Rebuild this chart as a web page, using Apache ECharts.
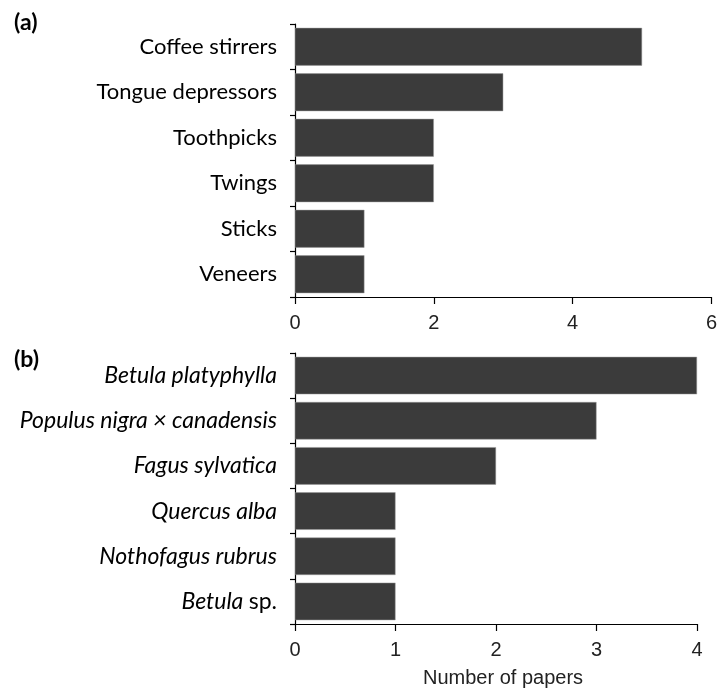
<!DOCTYPE html>
<html>
<head>
<meta charset="utf-8">
<script src="https://cdn.jsdelivr.net/npm/echarts@6/dist/echarts.min.js"></script>
<style>html,body{margin:0;padding:0;background:#fff}#c{width:720px;height:693px}</style>
</head>
<body>
<div id="c"></div>
<script>
// Panel (a): products
const catsA = ['Coffee stirrers', 'Tongue depressors', 'Toothpicks', 'Twings', 'Sticks', 'Veneers'];
const valsA = [5, 3, 2, 2, 1, 1];
const ticksA = [0, 2, 4, 6];
// Panel (b): species
const catsB = ['Betula platyphylla', 'Populus nigra × canadensis', 'Fagus sylvatica', 'Quercus alba', 'Nothofagus rubrus', 'Betula sp.'];
const valsB = [4, 3, 2, 1, 1, 1];
const ticksB = [0, 1, 2, 3, 4];
const panelLabels = ['(a)', '(b)'];
const xTitle = 'Number of papers';

const chart = echarts.init(document.getElementById('c'));
const barColor = '#3b3b3b';
const axisLineStyle = { color: '#000', width: 1.2 };
const catFont = 'Lato, "Open Sans", sans-serif';
const numFont = '"Liberation Sans", Arial, sans-serif';

function catAxis(idx, cats, italic) {
  const fs = italic ? 23 : 22;
  return {
    type: 'category', gridIndex: idx, data: cats, inverse: true,
    axisLine: { show: true, lineStyle: axisLineStyle },
    axisTick: { show: true, length: 5, lineStyle: axisLineStyle },
    axisLabel: {
      margin: 18, fontFamily: catFont, fontSize: fs, color: '#000',
      fontStyle: italic ? 'italic' : 'normal',
      formatter: italic ? function (v) {
        if (v === 'Betula sp.') return '{i|Betula} {n|sp.}';
        return '{i|' + v + '}';
      } : null,
      rich: italic ? {
        i: { fontFamily: catFont, fontSize: fs, fontStyle: 'italic', color: '#000' },
        n: { fontFamily: catFont, fontSize: fs, fontStyle: 'normal', color: '#000' }
      } : undefined
    }
  };
}
function valAxis(idx, ticks) {
  return {
    type: 'value', gridIndex: idx, min: ticks[0], max: ticks[ticks.length - 1],
    interval: ticks[1] - ticks[0],
    splitLine: { show: false },
    axisLine: { show: true, onZero: false, lineStyle: axisLineStyle },
    axisTick: { show: true, length: 7, lineStyle: axisLineStyle },
    axisLabel: { margin: 16, fontFamily: numFont, fontSize: 20, color: '#222' }
  };
}

chart.setOption({
  animation: false,
  backgroundColor: '#fff',
  grid: [
    { left: 295, top: 24, width: 417, height: 273 },
    { left: 295, top: 353, width: 402, height: 271 }
  ],
  xAxis: [valAxis(0, ticksA), valAxis(1, ticksB)],
  yAxis: [catAxis(0, catsA, false), catAxis(1, catsB, true)],
  series: [
    { type: 'bar', xAxisIndex: 0, yAxisIndex: 0, data: valsA, barWidth: '83%',
      itemStyle: { color: barColor, borderColor: '#999', borderWidth: 0.5 } },
    { type: 'bar', xAxisIndex: 1, yAxisIndex: 1, data: valsB, barWidth: '83%',
      itemStyle: { color: barColor, borderColor: '#999', borderWidth: 0.5 } }
  ],
  graphic: [
    { type: 'text', left: 14, top: 11, style: { text: panelLabels[0], font: 'bold 23px Lato, "Liberation Sans", sans-serif', fill: '#000' } },
    { type: 'text', left: 14, top: 348, style: { text: panelLabels[1], font: 'bold 23px Lato, "Liberation Sans", sans-serif', fill: '#000' } },
    { type: 'text', left: 423, top: 668, style: { text: xTitle, font: '20px "Liberation Sans", Arial, sans-serif', fill: '#222' } }
  ]
});
</script>
</body>
</html>
